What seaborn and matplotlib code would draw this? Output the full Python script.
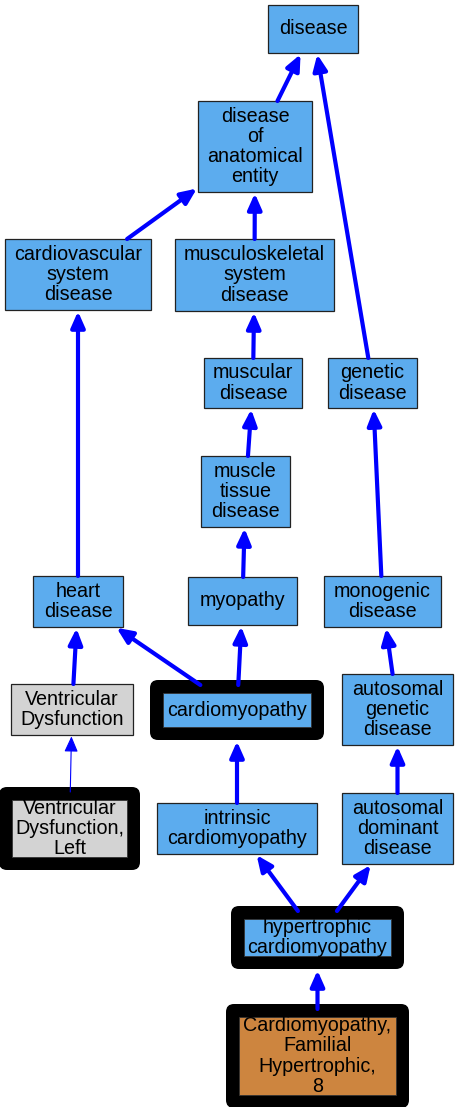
import matplotlib
matplotlib.use("Agg")
import matplotlib.pyplot as plt
from matplotlib.patches import Rectangle, FancyBboxPatch, FancyArrowPatch, ArrowStyle
import seaborn as sns

# terms of the ontology graph
node_ids = ["disease", "anat", "cardio", "musculo", "muscular", "genetic",
            "muscle_tissue", "heart", "myopathy", "monogenic", "vd",
            "cardiomyopathy", "auto_genetic", "vdl", "intrinsic",
            "auto_dominant", "hcm", "cmh8"]
node_labels = ["disease", "disease\nof\nanatomical\nentity",
               "cardiovascular\nsystem\ndisease", "musculoskeletal\nsystem\ndisease",
               "muscular\ndisease", "genetic\ndisease", "muscle\ntissue\ndisease",
               "heart\ndisease", "myopathy", "monogenic\ndisease",
               "Ventricular\nDysfunction", "cardiomyopathy",
               "autosomal\ngenetic\ndisease", "Ventricular\nDysfunction,\nLeft",
               "intrinsic\ncardiomyopathy", "autosomal\ndominant\ndisease",
               "hypertrophic\ncardiomyopathy",
               "Cardiomyopathy,\nFamilial\nHypertrophic,\n8"]
node_kind = ["do", "do", "do", "do", "do", "do", "do", "do", "do", "do", "mesh",
             "do", "do", "mesh", "do", "do", "do", "omim"]
highlighted = ["cardiomyopathy", "vdl", "hcm", "cmh8"]

# child -> parent (is_a)
edges = [("anat", "disease"), ("genetic", "disease"), ("cardio", "anat"),
         ("musculo", "anat"), ("muscular", "musculo"), ("muscle_tissue", "muscular"),
         ("myopathy", "muscle_tissue"), ("heart", "cardio"),
         ("cardiomyopathy", "heart"), ("cardiomyopathy", "myopathy"),
         ("monogenic", "genetic"), ("auto_genetic", "monogenic"),
         ("vd", "heart"), ("vdl", "vd"), ("intrinsic", "cardiomyopathy"),
         ("auto_dominant", "auto_genetic"), ("hcm", "intrinsic"),
         ("hcm", "auto_dominant"), ("cmh8", "hcm")]
thin_edges = [("vdl", "vd")]

# layout (pixel space, graphviz-like): centre x, centre y, width, height
layout = {
    "disease": (313, 29, 90, 48),
    "anat": (255, 146.5, 114, 91),
    "cardio": (78, 274.5, 146, 71),
    "musculo": (254.5, 275, 159, 72),
    "muscular": (253, 383, 98, 50),
    "genetic": (372.5, 383, 89, 50),
    "muscle_tissue": (245.5, 491.5, 89, 71),
    "heart": (78, 601.5, 90, 51),
    "myopathy": (242.5, 601, 109, 48),
    "monogenic": (382.5, 601.5, 117, 51),
    "vd": (72, 709.5, 122, 51),
    "cardiomyopathy": (237, 710, 148, 34),
    "auto_genetic": (397.5, 709.5, 111, 71),
    "vdl": (69.5, 828.5, 115, 57),
    "intrinsic": (237, 828.5, 160, 51),
    "auto_dominant": (397.5, 828.5, 111, 71),
    "hcm": (317.5, 937.5, 147, 37),
    "cmh8": (317.5, 1056, 157, 78),
}
fills = {"do": "#5CACEE", "mesh": "#D3D3D3", "omim": "#CD853F"}
BORDER = 13

sns.set_style("white")
plt.rcParams["font.family"] = ["Liberation Sans", "DejaVu Sans"]

fig = plt.figure(figsize=(4.58, 11.07), dpi=100)
ax = fig.add_axes([0, 0, 1, 1])
ax.set_xlim(0, 458)
ax.set_ylim(1107, 0)
ax.axis("off")


def clip(box, other, pad=0):
    cx, cy, w, h = box
    dx, dy = other[0] - cx, other[1] - cy
    hw, hh = w / 2 + pad, h / 2 + pad
    t = min(hw / abs(dx) if dx else 1e9, hh / abs(dy) if dy else 1e9)
    return cx + t * dx, cy + t * dy


for nid, label, kind in zip(node_ids, node_labels, node_kind):
    cx, cy, w, h = layout[nid]
    if nid in highlighted:
        ax.add_patch(FancyBboxPatch((cx - w / 2 - BORDER, cy - h / 2 - BORDER),
                                    w + 2 * BORDER, h + 2 * BORDER,
                                    boxstyle="round,pad=0,rounding_size=8",
                                    fc="black", ec="black", lw=0, zorder=2))
        ax.add_patch(Rectangle((cx - w / 2, cy - h / 2), w, h, fc=fills[kind],
                               ec="#333333", lw=0.6, zorder=3))
    else:
        ax.add_patch(Rectangle((cx - w / 2, cy - h / 2), w, h, fc=fills[kind],
                               ec="#222222", lw=0.9, zorder=3))
    ax.text(cx, cy, label, ha="center", va="center", fontsize=14.2,
            linespacing=1.07, color="black", zorder=4)

for child, parent in edges:
    cb, pb = layout[child], layout[parent]
    cpad = BORDER - 5 if child in highlighted else 0
    ppad = BORDER if parent in highlighted else 0
    tail = clip(cb, pb[:2], cpad)
    tip = clip(pb, cb[:2], ppad)
    thin = (child, parent) in thin_edges
    arrow = FancyArrowPatch(tail, tip,
                            arrowstyle=ArrowStyle("-|>", head_length=9.5, head_width=4.2),
                            mutation_scale=1, shrinkA=0, shrinkB=1.0,
                            lw=0.8 if thin else 3, color="blue", zorder=5)
    ax.add_patch(arrow)

fig.savefig("out.png", dpi=100)
